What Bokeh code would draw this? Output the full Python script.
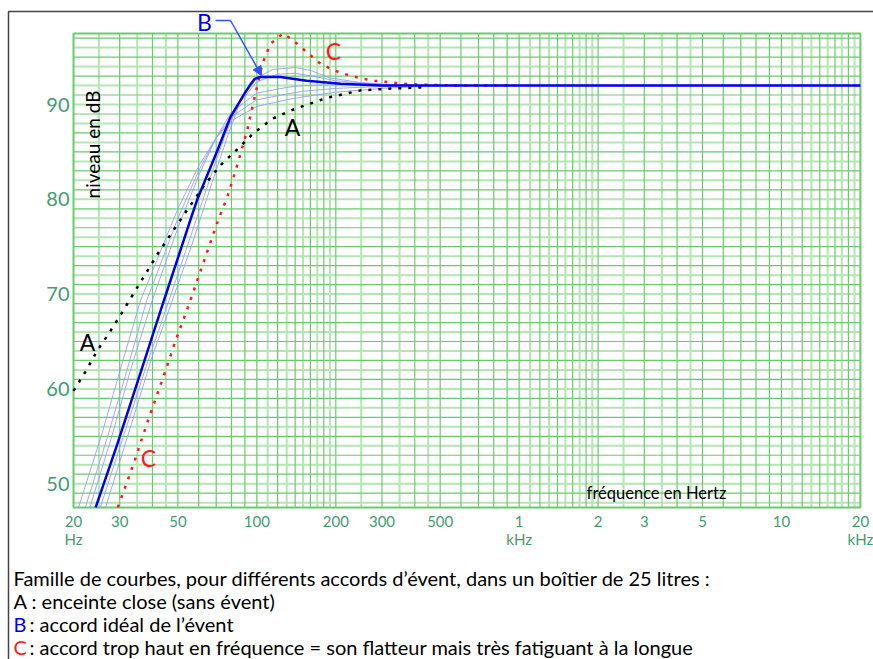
from bokeh.plotting import figure
from bokeh.models import Range1d, Label, Arrow, NormalHead, ColumnDataSource
from bokeh.core.properties import value
from bokeh.embed import file_html
from bokeh.resources import INLINE

# ---------------- data ----------------
x_ticks = [20, 30, 50, 100, 200, 300, 500, 1000, 2000, 3000, 5000, 10000, 20000]
x_tick_labels = ["20", "30", "50", "100", "200", "300", "500", "1", "2", "3", "5", "10", "20"]
x_unit_ticks = [20, 1000, 20000]
x_unit_labels = ["Hz", "kHz", "kHz"]
y_ticks = [50, 60, 70, 80, 90]
y_tick_labels = ["50", "60", "70", "80", "90"]

# A : closed box (black dotted)
freq_A = [20, 22.2, 24.6, 27.5, 30.7, 32.6, 42, 53.4, 63.5, 72.7, 84.4, 97.4, 114.7, 138.6, 185, 250, 337, 418, 450]
db_A = [59.8, 61.8, 64.0, 66.0, 68.1, 69.3, 74.3, 78.6, 81.6, 83.6, 85.3, 87.0, 88.5, 89.5, 90.7, 91.5, 91.7, 91.8, 91.9]

# B : ideal tuning (thick blue)
freq_B = [24.3, 29.4, 36.6, 44.2, 56.7, 59.3, 70.6, 79.4, 86, 90.4, 95, 98, 103, 123, 155, 209, 300, 20000]
db_B = [47.5, 54.2, 62.3, 69.3, 78.4, 80.0, 85.1, 88.7, 90.3, 91.3, 92.2, 92.7, 92.9, 92.9, 92.5, 92.2, 92.0, 92.0]

# C : tuning too high (red dotted)
freq_C = [29.5, 34.0, 38.6, 44.2, 49.0, 54.6, 62, 71.4, 77.1, 84.4, 91.9, 98.1, 105, 112.6, 126, 137, 148,
          160, 173, 190, 208, 230, 255, 282, 308, 344, 381, 424, 600, 968]
db_C = [47.5, 52.2, 56.8, 61.4, 65.1, 68.6, 73.0, 77.9, 80.2, 83.7, 87.3, 90.8, 94.3, 96.4, 97.5, 96.8, 96.0,
        95.2, 94.4, 93.8, 93.35, 93.0, 92.7, 92.5, 92.4, 92.25, 92.15, 92.1, 92.0, 92.0]

# family of other tunings (thin light blue)
freq_T1 = [26.5, 33, 40, 47.6, 57, 67, 77, 87, 100, 115, 140, 160, 190, 250, 350, 500]
db_T1 = [47.5, 56.0, 63.5, 69.3, 75.5, 81.5, 86.5, 90.5, 92.8, 93.7, 93.9, 93.6, 92.8, 92.3, 92.05, 92.0]
freq_T2 = [25.3, 31, 38, 46.2, 55, 65, 75, 85, 100, 120, 140, 170, 200, 300, 500]
db_T2 = [47.5, 55.0, 62.5, 69.3, 75.5, 81.5, 86.5, 90.0, 92.4, 93.2, 93.3, 92.9, 92.5, 92.1, 92.0]
freq_T3 = [23.1, 28, 33, 39.9, 50, 60, 70, 80, 100, 130, 150, 200, 300, 500]
db_T3 = [47.5, 55.0, 62.0, 69.3, 77.0, 82.5, 86.5, 89.2, 91.2, 91.8, 92.0, 92.1, 92.05, 92.0]
freq_T4 = [22.2, 27, 32, 38.0, 50, 60, 70, 80, 100, 130, 150, 200, 300, 500]
db_T4 = [47.5, 55.0, 62.0, 69.3, 78.0, 83.0, 86.5, 88.7, 90.5, 91.1, 91.4, 91.7, 91.9, 92.0]
freq_T5 = [20.9, 25.5, 30.5, 36.0, 50, 60, 70, 80, 100, 130, 150, 200, 300, 500]
db_T5 = [47.5, 55.0, 62.5, 69.3, 79.0, 83.5, 86.5, 88.3, 89.8, 90.5, 90.8, 91.3, 91.7, 92.0]

caption_lines = [
    "Famille de courbes, pour différents accords d\u2019évent, dans un boîtier de 25 litres :",
    "A : enceinte close (sans évent)",
    ": accord idéal de l\u2019évent",
    ": accord trop haut en fréquence = son flatteur mais très fatiguant à la longue",
]

# ---------------- styling ----------------
FONT = "Lato"
GREEN_DARK = "#6acb6a"
GREEN_LIGHT = "#b3e6b3"
TICK_COLOR = "#3f9c70"
BLUE = "#0000ee"
ARROW_BLUE = "#3050ff"
THIN_BLUE = "#9a9aff"
RED = "#ff1a1a"

W, H = 873, 659
F_MIN, F_MAX, DB_MIN, DB_MAX = 20, 20000, 47.5, 97.5
X0, XPX, Y0, YPX = 73.0, 262.3, 104.0, 9.48   # pixel calibration of the graph area


def px_x(x):
    return 20 * 10 ** ((x - X0) / XPX)


def px_y(y):
    return 90 - (y - Y0) / YPX


p = figure(width=W, height=H, x_axis_type="log",
           x_range=Range1d(px_x(0), px_x(W)), y_range=Range1d(px_y(H), px_y(0)),
           x_axis_location=None, y_axis_location=None,
           output_backend="svg", toolbar_location=None,
           min_border=0)
p.outline_line_color = None
p.background_fill_color = "white"
p.border_fill_color = "white"
p.grid.visible = False

# outer picture border (top and left)
p.line([px_x(8), px_x(8), px_x(W)], [px_y(H), px_y(11), px_y(11)], line_color="#444444", line_width=1.5)

# graph-paper grid
dark_x, light_x = [], []
for d in [10, 100, 1000, 10000]:
    for m in [1, 1.2, 1.4, 1.6, 1.8, 2, 3, 4, 5, 6, 7, 8, 9]:
        v = m * d
        if F_MIN < v < F_MAX:
            dark_x.append(v)
    for m in [1.1, 1.3, 1.5, 1.7, 1.9, 2.5, 3.5, 4.5]:
        v = m * d
        if F_MIN < v < F_MAX:
            light_x.append(v)
dark_y = [v for v in range(48, 98) if v % 2 == 1]
light_y = [v for v in range(48, 98) if v % 2 == 0]

p.segment(x0=light_x, x1=light_x, y0=[DB_MIN] * len(light_x), y1=[DB_MAX] * len(light_x),
          line_color=GREEN_LIGHT, line_width=2)
p.segment(x0=[F_MIN] * len(light_y), x1=[F_MAX] * len(light_y), y0=light_y, y1=light_y,
          line_color=GREEN_LIGHT, line_width=2)
p.segment(x0=dark_x, x1=dark_x, y0=[DB_MIN] * len(dark_x), y1=[DB_MAX] * len(dark_x),
          line_color=GREEN_DARK, line_width=1.2)
p.segment(x0=[F_MIN] * len(dark_y), x1=[F_MAX] * len(dark_y), y0=dark_y, y1=dark_y,
          line_color=GREEN_DARK, line_width=1.2)
p.quad(left=[F_MIN], right=[F_MAX], bottom=[DB_MIN], top=[DB_MAX], fill_color=None,
       line_color=GREEN_DARK, line_width=2)

# tick labels (placed on the log / linear scales)
xsrc = ColumnDataSource(dict(x=x_ticks, y=[px_y(521)] * len(x_ticks), t=x_tick_labels))
p.text(x="x", y="y", text="t", source=xsrc, text_color=TICK_COLOR, text_font=value(FONT),
       text_font_size=value("15px"), text_align="center", text_baseline="middle")
usrc = ColumnDataSource(dict(x=x_unit_ticks, y=[px_y(538)] * len(x_unit_ticks), t=x_unit_labels))
p.text(x="x", y="y", text="t", source=usrc, text_color=TICK_COLOR, text_font=value(FONT),
       text_font_size=value("15px"), text_align="center", text_baseline="middle")
ysrc = ColumnDataSource(dict(x=[px_x(69)] * len(y_ticks), y=y_ticks, t=y_tick_labels))
p.text(x="x", y="y", text="t", source=ysrc, text_color=TICK_COLOR, text_font=value(FONT),
       text_font_size=value("20px"), text_align="right", text_baseline="middle")

# curves
for fx, fy in [(freq_T1, db_T1), (freq_T2, db_T2), (freq_T3, db_T3), (freq_T4, db_T4), (freq_T5, db_T5)]:
    p.line(fx, fy, line_color=THIN_BLUE, line_width=0.9)
p.line(freq_A, db_A, line_color="black", line_width=2.5, line_dash="3 7")
p.line(freq_C, db_C, line_color=RED, line_width=2.5, line_dash="3 7")
p.line(freq_B, db_B, line_color=BLUE, line_width=2.5)


def add_label(x, y, text, color="black", size="23px", align="center", angle=0.0):
    p.add_layout(Label(x=px_x(x), y=px_y(y), text=text, text_color=color, text_font=FONT,
                       text_font_size=size, text_align=align, text_baseline="middle", angle=angle))


# curve letters
add_label(204, 21, "B", BLUE)
add_label(333, 50, "C", RED)
add_label(292, 126, "A")
add_label(87, 341, "A")
add_label(148, 457, "C", RED)

# arrow from B label
p.add_layout(Arrow(x_start=px_x(215), y_start=px_y(20), x_end=px_x(230), y_end=px_y(20),
                   line_color=ARROW_BLUE, line_width=1.5, end=None))
p.add_layout(Arrow(x_start=px_x(230), y_start=px_y(20), x_end=px_x(261), y_end=px_y(75),
                   line_color=ARROW_BLUE, line_width=1.5,
                   end=NormalHead(size=9, fill_color=ARROW_BLUE, line_color=ARROW_BLUE)))

# axis titles inside the graph
add_label(92, 144, "niveau en dB", size="19px", angle=1.5708)
add_label(656, 492, "fréquence en Hertz", size="16.5px")

# caption
CAP = "20px"
add_label(13, 577, caption_lines[0], size=CAP, align="left")
add_label(13, 600, caption_lines[1], size=CAP, align="left")
add_label(13, 623, "B", BLUE, size=CAP, align="left")
add_label(29, 623, caption_lines[2], size=CAP, align="left")
add_label(13, 646, "C", RED, size=CAP, align="left")
add_label(29, 646, caption_lines[3], size=CAP, align="left")

open("out.html", "w").write(file_html(p, INLINE))
